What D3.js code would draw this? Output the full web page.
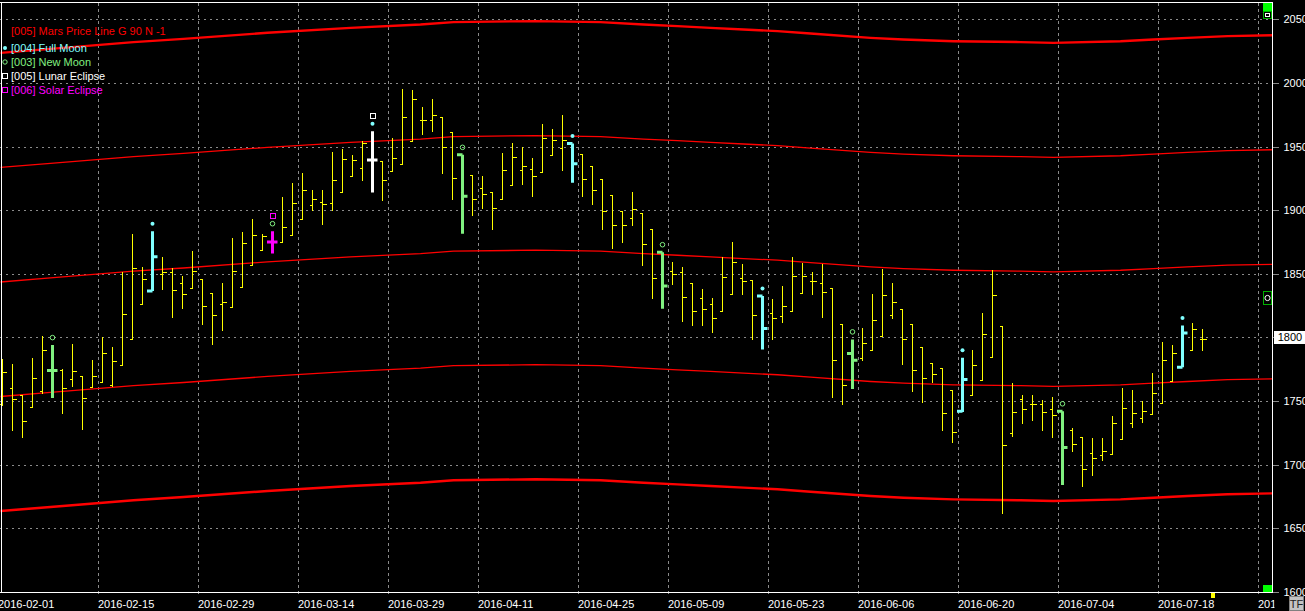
<!DOCTYPE html>
<html><head><meta charset="utf-8">
<script src="https://cdn.jsdelivr.net/npm/d3@7"></script>
<style>
html,body{margin:0;padding:0;background:#000;overflow:hidden;}
svg{display:block;}
text{font-family:"Liberation Sans",Arial,sans-serif;font-size:11px;}
</style>
</head><body>
<svg id="chart" width="1305" height="611"></svg>
<script>
// ---------------- DATA ----------------
const dates = [
"2016-02-01","2016-02-02","2016-02-03","2016-02-04","2016-02-05","2016-02-08","2016-02-09","2016-02-10","2016-02-11","2016-02-12",
"2016-02-15","2016-02-16","2016-02-17","2016-02-18","2016-02-19","2016-02-22","2016-02-23","2016-02-24","2016-02-25","2016-02-26",
"2016-02-29","2016-03-01","2016-03-02","2016-03-03","2016-03-04","2016-03-07","2016-03-08","2016-03-09","2016-03-10","2016-03-11",
"2016-03-14","2016-03-15","2016-03-16","2016-03-17","2016-03-18","2016-03-21","2016-03-22","2016-03-23","2016-03-24","2016-03-29",
"2016-03-30","2016-03-31","2016-04-01","2016-04-04","2016-04-05","2016-04-06","2016-04-07","2016-04-08","2016-04-11","2016-04-12",
"2016-04-13","2016-04-14","2016-04-15","2016-04-18","2016-04-19","2016-04-20","2016-04-21","2016-04-22","2016-04-25","2016-04-26",
"2016-04-27","2016-04-28","2016-04-29","2016-05-03","2016-05-04","2016-05-05","2016-05-06","2016-05-09","2016-05-10","2016-05-11",
"2016-05-12","2016-05-13","2016-05-16","2016-05-17","2016-05-18","2016-05-19","2016-05-20","2016-05-23","2016-05-24","2016-05-25",
"2016-05-26","2016-05-27","2016-05-31","2016-06-01","2016-06-02","2016-06-03","2016-06-06","2016-06-07","2016-06-08","2016-06-09",
"2016-06-10","2016-06-13","2016-06-14","2016-06-15","2016-06-16","2016-06-17","2016-06-20","2016-06-21","2016-06-22","2016-06-23",
"2016-06-24","2016-06-27","2016-06-28","2016-06-29","2016-06-30","2016-07-01","2016-07-04","2016-07-05","2016-07-06","2016-07-07",
"2016-07-08","2016-07-11","2016-07-12","2016-07-13","2016-07-14","2016-07-15","2016-07-18","2016-07-19","2016-07-20","2016-07-21",
"2016-07-22"];
const futureDates = ["2016-07-25","2016-07-26","2016-07-27","2016-07-28","2016-07-29","2016-08-01","2016-08-02"];

const open = [1748,1760.5,1755,1745.5,1758,1774,1774.5,1767,1770,1761,
1765,1763,1778,1799,1826.5,1836.5,1850,1851.5,1843,1839,
1846,1835,1826.5,1824,1840,1857,1868.5,1875,1875,1880.5,
1893,1904,1906.5,1905.5,1914,1926.5,1933,1939.5,1939,1930.5,
1936,1954,1971,1971,1973.5,1961.5,1943.5,1927.5,1917.5,1914,
1908.5,1920,1931.5,1932.5,1930,1943.5,1949,1952.5,1944,1934.5,
1924.5,1912,1899.5,1894,1898,1885.5,1867,1852.5,1851.5,1842.5,
1831,1826.5,1821,1834.5,1847,1845,1832.5,1819.5,1816.5,1821,
1835,1844,1843,1839,1810.5,1787.5,1784,1790,1801,1817.5,
1822.5,1810.5,1792.5,1780,1776,1758.5,1742,1754.5,1766.5,1785,
1809,1725,1752,1748,1748,1744,1742,1727.5,1722,1709.5,
1707.5,1708.5,1720.5,1733,1737,1740,1748.5,1765.5,1776.5,1790.5,
1799];
const high = [1783,1779,1755,1784,1801.5,1794,1775.5,1794.5,1770,1782,
1800.5,1792.5,1851.5,1881,1855.5,1883.5,1863.5,1854.5,1848,1868,
1846,1835,1842.5,1878.5,1882.5,1893,1881.5,1883.5,1910.5,1921.5,
1929,1916,1915.5,1945.5,1948,1943.5,1954,1962,1939,1957,
1995.5,1994.5,1981,1987.5,1973.5,1961.5,1943.5,1927.5,1926.5,1914,
1945,1952.5,1949.5,1941,1967.5,1964,1974.5,1952.5,1944,1934.5,
1924.5,1912,1899.5,1914.5,1898,1885.5,1867,1859.5,1855.5,1842.5,
1838,1831,1863,1875,1857.5,1845,1832.5,1830,1840.5,1863.5,
1858.5,1851.5,1857.5,1839,1810.5,1798.5,1807.5,1834.5,1854,1842.5,
1822.5,1810.5,1792.5,1780,1776,1758.5,1784,1790,1819,1853,
1809,1764.5,1755,1755,1751,1753.5,1742,1728.5,1722,1721,
1721,1738.5,1760.5,1758.5,1750,1772,1796.5,1794,1809.5,1811.5,
1806.5];
const low = [1747,1727,1722,1745.5,1756.5,1752.5,1741,1762,1728,1761,
1765,1762,1778,1799,1826.5,1836.5,1838,1816,1823.5,1839,
1810.5,1795,1805.5,1824,1840,1857,1868.5,1866,1875,1880.5,
1893,1900.5,1889.5,1900.5,1914,1926.5,1924,1914,1908,1930.5,
1936,1954,1959.5,1962,1929.5,1909,1881.5,1896.5,1902,1885.5,
1908.5,1920,1920.5,1911,1930,1943.5,1931.5,1921.5,1911.5,1904.5,
1885.5,1870.5,1875,1888,1857,1831,1822.5,1842,1813,1809.5,
1809.5,1804.5,1821,1834.5,1834.5,1798.5,1790.5,1799,1812.5,1821,
1835,1834.5,1816,1753.5,1748,1759.5,1782.5,1790,1801,1815.5,
1779.5,1758,1749,1765,1727,1717.5,1741.5,1754.5,1766.5,1785,
1662,1722.5,1733,1735,1727,1722,1684,1710.5,1683,1692,
1703.5,1708.5,1720.5,1729.5,1733.5,1740,1748.5,1765.5,1776.5,1790.5,
1790];
const close = [1773,1752,1734,1768,1790,1774,1760,1774,1752.5,1770,
1788,1781.5,1818.5,1854.5,1846,1863.5,1851.5,1837,1834.5,1852,
1824.5,1817.5,1827.5,1852,1874.5,1880.5,1879.5,1875,1887,1905.5,
1915.5,1908.5,1905,1923.5,1940.5,1939.5,1953,1939.5,1924,1941,
1973.5,1987,1971,1975,1949.5,1925.5,1911,1908.5,1912.5,1902,
1931.5,1942,1935,1927,1957,1955,1955,1936.5,1924.5,1915.5,
1899,1888,1888,1901,1873.5,1847,1840.5,1850,1832,1821,
1822,1815.5,1847.5,1859,1844,1818,1807,1815,1824.5,1848,
1848,1844,1835.5,1782,1762.5,1782,1795.5,1813.5,1833,1828,
1798.5,1774.5,1768.5,1771.5,1741,1726,1767,1778.5,1803,1833,
1715.5,1741.5,1744,1748,1741.5,1739,1713.5,1716.5,1697,1705,
1710.5,1733,1744.5,1741,1742.5,1756.5,1782,1788,1803.5,1807,
1799];

const tickDates = ["2016-02-01","2016-02-15","2016-02-29","2016-03-14","2016-03-29","2016-04-11","2016-04-25",
"2016-05-09","2016-05-23","2016-06-06","2016-06-20","2016-07-04","2016-07-18","2016-08-01"];
const yTicks = [1600,1650,1700,1750,1800,1850,1900,1950,2000,2050];

const fullMoonDates = ["2016-02-22","2016-03-23","2016-04-22","2016-05-20","2016-06-20","2016-07-20"];
const newMoonDates = ["2016-02-08","2016-03-09","2016-04-07","2016-05-06","2016-06-03","2016-07-04"];
const lunarEclipseDates = ["2016-03-23"];
const solarEclipseDates = ["2016-03-09"];

// Mars price line (base level, read at bar positions), drawn with +0/90/180/270/360 offsets
const priceLinePos = [-0.2,4.8,13.1,18.1,26.5,34.8,41.8,45.1,53.3,59.8,64.1,67.5,70.8,74.1,77.5,80.8,86.8,90.1,95.1,101.8,105.1,111.8,115.1,118.5,122.5,127];
const priceLineBase = [1663.6,1666.8,1672.1,1674.6,1679.4,1683.3,1685.9,1687.8,1688.6,1687.8,1685.9,1684.6,1683.3,1682.0,1680.7,1678.8,1675.4,1674.1,1672.8,1672.1,1671.5,1672.8,1674.1,1675.4,1676.8,1677.5];
const priceLineOffsets = [0,90,180,270,360];
const lastPrice = 1800;

const legendLabels = ["[005] Mars Price Line G 90 N -1","[004] Full Moon","[003] New Moon","[005] Lunar Eclipse","[006] Solar Eclipse"];

// ---------------- STYLE ----------------
const C = {bar:"#ffff00", full:"#80ffff", nw:"#80f080", lunar:"#ffffff", solar:"#ff00ff", red:"#ff0000", grid:"#8a8a8a", text:"#ffffff"};
const plotR = 1272.5, plotT = 2.5, plotB = 592.5;

const svg = d3.select("#chart");
const allDates = dates.concat(futureDates);
const x = d3.scaleLinear().domain([-0.5, allDates.length - 0.5]).range([-2.5, -2.5 + 10*allDates.length]);
const y = d3.scaleLinear().domain([1600, 2050]).range([592, 19.3]);
const py = v => Math.round(y(v)) + 0.5;

svg.append("defs").append("clipPath").attr("id","plot")
  .append("rect").attr("x",0).attr("y",plotT).attr("width",plotR).attr("height",plotB-plotT);
svg.append("defs").append("clipPath").attr("id","xlab")
  .append("rect").attr("x",0).attr("y",0).attr("width",plotR+2).attr("height",611);

// horizontal grid
svg.append("g").selectAll("line").data(yTicks).join("line")
  .attr("x1",0).attr("x2",plotR).attr("y1",d=>py(d)).attr("y2",d=>py(d))
  .attr("stroke",C.grid).attr("stroke-dasharray","2,4").attr("shape-rendering","crispEdges");

// x axis (vertical grid + labels)
const tickIdx = tickDates.map(d => allDates.indexOf(d) - 0.5);
const xAxis = d3.axisBottom(x).tickValues(tickIdx)
  .tickFormat(i => allDates[Math.round(i + 0.5)]).tickSize(0).tickPadding(0);
const gx = svg.append("g").attr("transform",`translate(0,${plotB})`).attr("clip-path","url(#xlab)").call(xAxis);
gx.select(".domain").remove();
gx.selectAll(".tick text").attr("fill",C.text).attr("text-anchor","start").attr("x",0).attr("y",15).attr("dy",0)
  .style("font-family",'"Liberation Sans",Arial,sans-serif').style("font-size","11px");
svg.append("g").selectAll("line").data(tickIdx).join("line")
  .attr("x1",d=>Math.round(x(d))+0.5).attr("x2",d=>Math.round(x(d))+0.5)
  .attr("y1",plotT).attr("y2",plotB+4)
  .attr("stroke",C.grid).attr("stroke-dasharray","3,3").attr("shape-rendering","crispEdges");

// y axis
const yAxis = d3.axisRight(y).tickValues(yTicks).tickSize(6).tickPadding(5).tickFormat(d3.format("d"));
const gy = svg.append("g").attr("transform",`translate(${plotR},0)`).call(yAxis);
gy.select(".domain").remove();
gy.selectAll(".tick line").attr("stroke",C.grid).attr("shape-rendering","crispEdges");
gy.selectAll(".tick text").attr("fill",C.text)
  .style("font-family",'"Liberation Sans",Arial,sans-serif').style("font-size","11px")
  .style("display", d => d === lastPrice ? "none" : null);

// price lines
const plot = svg.append("g").attr("clip-path","url(#plot)");
const pts = priceLinePos.map((p,i)=>({p, v:priceLineBase[i]}));
plot.append("g").selectAll("path").data(priceLineOffsets).join("path")
  .attr("fill","none").attr("stroke",C.red)
  .attr("stroke-width",(d,i)=> (i===0||i===priceLineOffsets.length-1) ? 2.4 : 1.3)
  .attr("d", off => d3.line().x(d=>x(d.p)).y(d=>y(d.v+off))(pts));

// bars
const bars = dates.map((d,i)=>{
  let type = "n";
  if (lunarEclipseDates.includes(d)) type = "lunar";
  else if (solarEclipseDates.includes(d)) type = "solar";
  else if (fullMoonDates.includes(d)) type = "full";
  else if (newMoonDates.includes(d)) type = "nw";
  return {d, i, o:open[i], h:high[i], l:low[i], c:close[i], type,
          full: fullMoonDates.includes(d), nw: newMoonDates.includes(d),
          ecl: lunarEclipseDates.includes(d) ? "lunar" : (solarEclipseDates.includes(d) ? "solar" : null)};
});
const colorOf = t => t==="n" ? C.bar : C[t];

const normal = bars.filter(b=>b.type==="n");
const special = bars.filter(b=>b.type!=="n");

plot.append("g").selectAll("path").data(normal).join("path")
  .attr("fill","none").attr("stroke",C.bar).attr("stroke-width",1).attr("shape-rendering","crispEdges")
  .attr("d", b => {
    const cx = x(b.i);
    return `M${cx},${Math.round(y(b.h))}V${Math.round(y(b.l))+1}` +
           `M${cx-3},${py(b.o)}H${cx}` +
           `M${cx},${py(b.c)}H${cx+4}`;
  });

plot.append("g").selectAll("path").data(special).join("path")
  .attr("fill","none").attr("stroke",b=>colorOf(b.type)).attr("stroke-width",3)
  .attr("d", b => {
    const cx = x(b.i);
    return `M${cx},${y(b.h)}V${y(b.l)}` +
           `M${cx-5.5},${y(b.o)}H${cx}` +
           `M${cx},${y(b.c)}H${cx+5}`;
  });

// markers above special bars
plot.append("g").selectAll("circle").data(bars.filter(b=>b.full)).join("circle")
  .attr("cx",b=>x(b.i)).attr("cy",b=>y(b.h)-7.5).attr("r",2).attr("fill",C.full);
plot.append("g").selectAll("circle").data(bars.filter(b=>b.nw)).join("circle")
  .attr("cx",b=>x(b.i)).attr("cy",b=>y(b.h)-7.5).attr("r",2.3).attr("fill","none").attr("stroke",C.nw).attr("stroke-width",1);
plot.append("g").selectAll("rect").data(bars.filter(b=>b.ecl)).join("rect")
  .attr("x",b=>Math.round(x(b.i))-2.5).attr("y",b=>Math.round(y(b.h)-15.5)-2.5)
  .attr("width",5).attr("height",5).attr("fill","none").attr("stroke",b=>C[b.ecl]).attr("stroke-width",1)
  .attr("shape-rendering","crispEdges");

// frame
const frame = svg.append("g").attr("stroke","#ffffff").attr("stroke-width",1).attr("shape-rendering","crispEdges");
frame.append("line").attr("x1",0).attr("x2",plotR).attr("y1",plotT).attr("y2",plotT);
frame.append("line").attr("x1",0).attr("x2",plotR).attr("y1",plotB).attr("y2",plotB);
frame.append("line").attr("x1",1.5).attr("x2",1.5).attr("y1",plotT).attr("y2",plotB);
frame.append("line").attr("x1",plotR).attr("x2",plotR).attr("y1",plotT).attr("y2",plotB);

// legend
const legendColors = [C.red, C.full, C.nw, C.lunar, C.solar];
const lg = svg.append("g");
lg.selectAll("text").data(legendLabels).join("text")
  .attr("x",11).attr("y",(d,i)=>i===0 ? 34.5 : 52 + (i-1)*14)
  .attr("fill",(d,i)=>legendColors[i]).text(d=>d);
lg.append("circle").attr("cx",5).attr("cy",48).attr("r",2).attr("fill",C.full);
lg.append("circle").attr("cx",5).attr("cy",62).attr("r",2.2).attr("fill","none").attr("stroke",C.nw);
lg.append("rect").attr("x",2.5).attr("y",73.5).attr("width",5).attr("height",5).attr("fill","none").attr("stroke",C.lunar).attr("shape-rendering","crispEdges");
lg.append("rect").attr("x",2.5).attr("y",87.5).attr("width",5).attr("height",5).attr("fill","none").attr("stroke",C.solar).attr("shape-rendering","crispEdges");

// right-side widgets
const w = svg.append("g").attr("shape-rendering","crispEdges");
w.append("rect").attr("x",1263).attr("y",3).attr("width",9).attr("height",9).attr("fill","#00ff00");
w.append("rect").attr("x",1263.5).attr("y",11.5).attr("width",8).attr("height",7).attr("fill","#000").attr("stroke","#00b000");
w.append("rect").attr("x",1265.5).attr("y",13.5).attr("width",4).attr("height",3).attr("fill","none").attr("stroke","#fff");
w.append("rect").attr("x",1263.5).attr("y",291.5).attr("width",8).attr("height",13).attr("fill","#000").attr("stroke","#00b000");
svg.append("circle").attr("cx",1267.5).attr("cy",298).attr("r",2.6).attr("fill","none").attr("stroke","#fff");
w.append("rect").attr("x",1263).attr("y",585).attr("width",9).attr("height",7).attr("fill","#00ff00");
w.append("rect").attr("x",1211).attr("y",593).attr("width",4).attr("height",5).attr("fill","#ffff00");

// last price box
svg.append("rect").attr("x",1274).attr("y",Math.round(y(lastPrice))-6).attr("width",31).attr("height",13).attr("fill","#fff");
svg.append("text").attr("x",1290).attr("y",y(lastPrice)).attr("dy","0.35em").attr("text-anchor","middle").attr("fill","#000").text(d3.format("d")(lastPrice));

// TF button
svg.append("rect").attr("x",1289.5).attr("y",596.5).attr("width",14).attr("height",14).attr("fill","#c4c4c4").attr("stroke","#808080").attr("shape-rendering","crispEdges");
svg.append("text").attr("x",1296.5).attr("y",607.5).attr("text-anchor","middle").attr("fill","#202020").text("TF");
</script>
</body></html>
